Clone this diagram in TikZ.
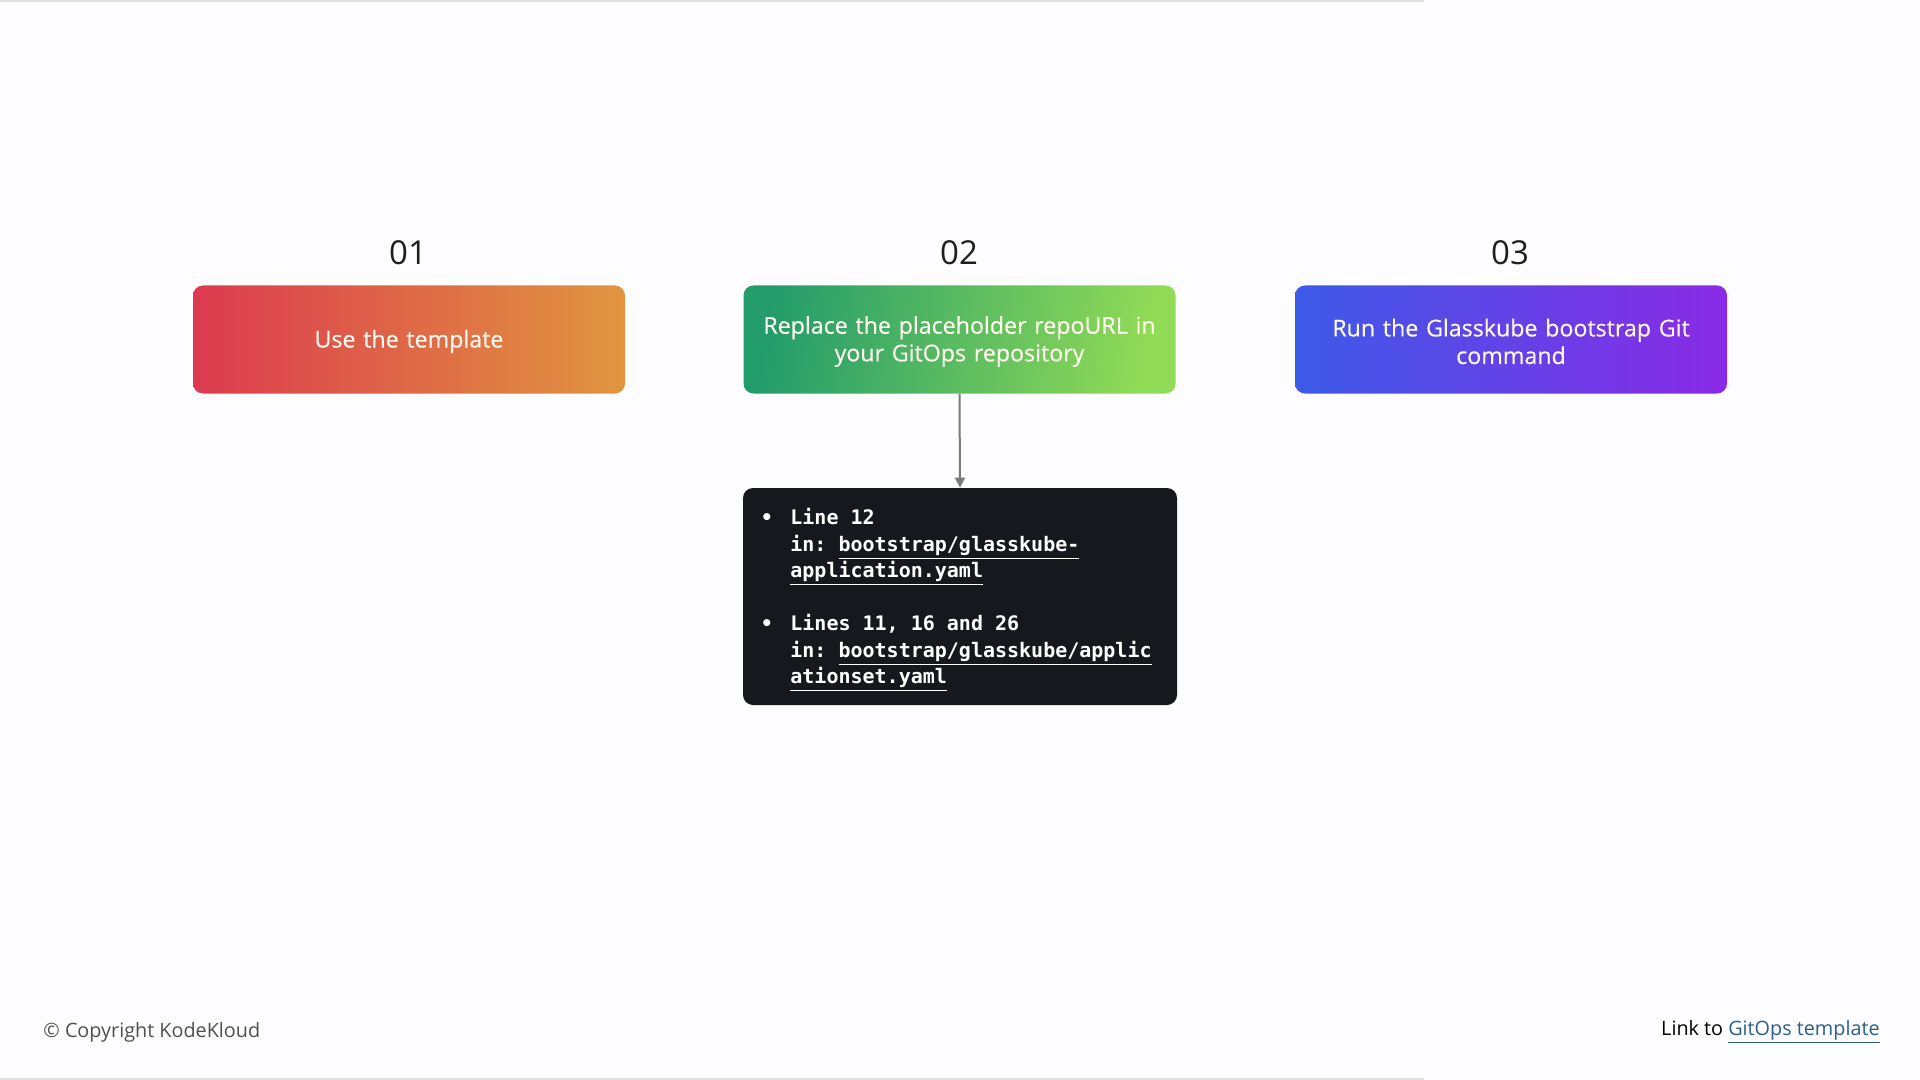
\documentclass[tikz,border=0pt]{standalone}
\usepackage{fontspec}
\setmainfont{Open Sans}
\newfontfamily\boxfont[FakeBold=0.35]{Open Sans}
\setmonofont{DejaVu Sans Mono}
\usetikzlibrary{arrows.meta}
\definecolor{bg}{HTML}{FDFCFF}
\definecolor{redA}{HTML}{DC3A4F}
\definecolor{redB}{HTML}{DF6A4A}
\definecolor{redC}{HTML}{E1963F}
\definecolor{grA}{HTML}{239C6B}
\definecolor{grB}{HTML}{56BB60}
\definecolor{grC}{HTML}{92DB56}
\definecolor{blA}{HTML}{3D5AE8}
\definecolor{blB}{HTML}{5F45EA}
\definecolor{blC}{HTML}{8A2AE6}
\definecolor{codebg}{HTML}{16181D}
\definecolor{arrowgray}{HTML}{7A7A7A}
\definecolor{linkblue}{HTML}{2C5F87}
\definecolor{foot}{HTML}{505050}
\definecolor{boxtext}{HTML}{FFF8EE}
\tikzset{
  stepbox/.style={rounded corners=5pt, minimum width=216pt, minimum height=54pt,
    inner sep=0pt},
  steptext/.style={inner sep=0pt, text=boxtext, align=center, text width=205pt,
    font=\boxfont\fontsize{11.6}{13.8}\selectfont, yshift=-1pt},
  num/.style={font=\fontsize{16.5}{18}\selectfont, text=black!88, inner sep=0pt},
  codeline/.style={anchor=base west, inner sep=0pt, text=white,
    font=\ttfamily\bfseries\fontsize{10}{12}\selectfont},
  bulletdot/.style={anchor=base, inner sep=0pt, text=white,
    font=\ttfamily\bfseries\fontsize{10}{12}\selectfont},
  arr/.style={draw=arrowgray, line width=1pt, -{Triangle[length=5pt,width=5pt]}},
  footer/.style={inner sep=0pt, font=\fontsize{9.9}{12}\selectfont},
}
\begin{document}
\begin{tikzpicture}[x=0.5pt,y=-0.5pt]
\fill[bg] (0,0) rectangle (1920,1080);
\useasboundingbox (0,0) rectangle (1920,1080);
\draw[black!12, line width=1pt] (0,1) -- (1424,1);
\draw[black!12, line width=1pt] (0,1079) -- (1424,1079);

\node[num] (n1) at (408,253) {01};
\node[num] (n2) at (959,253) {02};
\node[num] (n3) at (1510,253) {03};

\node[stepbox, left color=redA, middle color=redB, right color=redC] (b1) at (409,339.5) {};
\node[stepbox, left color=grA, middle color=grB, right color=grC, shading angle=80] (b2) at (959.5,339.5) {};
\node[stepbox, left color=blA, middle color=blB, right color=blC] (b3) at (1511,339.5) {};
\node[steptext] (b1t) at (b1.center) {Use the template};
\node[steptext] (b2t) at (b2.center) {Replace the placeholder repoURL in\\your GitOps repository};
\node[steptext] (b3t) at (b3.center) {Run the Glasskube bootstrap Git\\command};

\node[rounded corners=5pt, fill=codebg, minimum width=217pt, minimum height=108.5pt, inner sep=0pt] (code) at (960,596.5) {};
\draw[arr] (b2.south) -- (code.north);

\node[bulletdot] (d1) at (767,524) {•};
\node[codeline] (t1) at (790,524) {Line 12};
\node[codeline] (t2) at (790,551) {in: \underline{bootstrap/glasskube-}};
\node[codeline] (t3) at (790,577) {\underline{application.yaml}};
\node[bulletdot] (d2) at (767,630) {•};
\node[codeline] (t4) at (790,630) {Lines 11, 16 and 26};
\node[codeline] (t5) at (790,657) {in: \underline{bootstrap/glasskube/applic}};
\node[codeline] (t6) at (790,683) {\underline{ationset.yaml}};

\node[footer, anchor=west, text=foot] (copy) at (43,1032) {© Copyright KodeKloud};
\node[footer, anchor=east, text=black] (link) at (1880,1032) {Link to \textcolor{linkblue}{\underline{GitOps template}}};
\end{tikzpicture}
\end{document}
